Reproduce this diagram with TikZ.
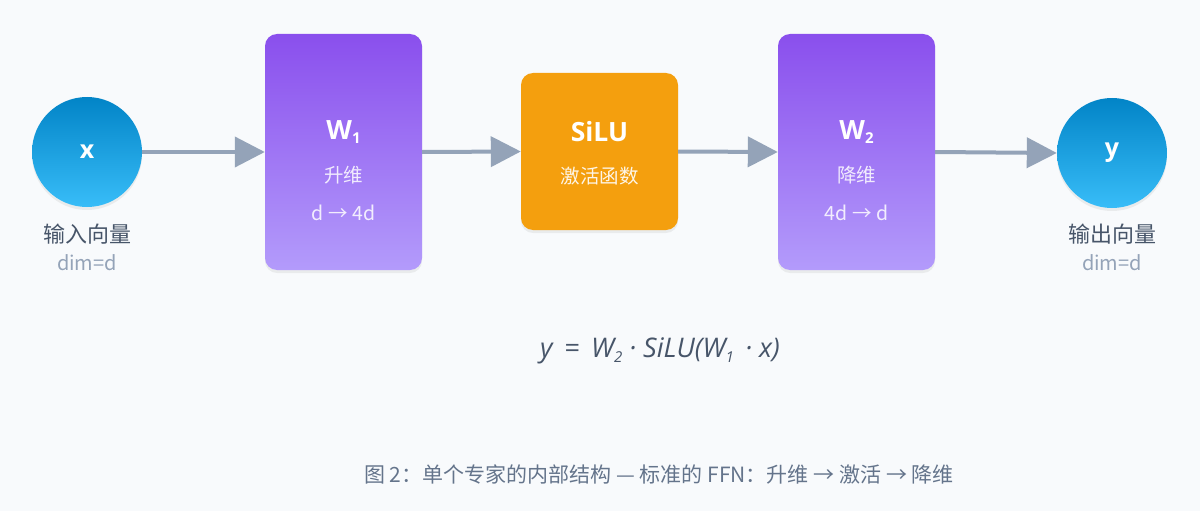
\documentclass[tikz,border=0pt]{standalone}
\usepackage{fontspec}
\setmainfont{Open Sans}
\newfontfamily\cjk{Noto Sans CJK SC}
\usetikzlibrary{arrows.meta,shadows}
\definecolor{paperbg}{HTML}{F8FAFC}
\definecolor{skytop}{HTML}{0284C7}
\definecolor{skybot}{HTML}{38BDF8}
\definecolor{violettop}{HTML}{8A4FED}
\definecolor{violetbot}{HTML}{B39BFB}
\definecolor{ambermid}{HTML}{F49F0E}
\definecolor{flowgray}{HTML}{94A3B8}
\definecolor{slatetext}{HTML}{475569}
\definecolor{captext}{HTML}{64748B}
\newcommand{\lowidx}[1]{\raisebox{-0.3ex}{\fontsize{15}{15}\selectfont #1}}
\begin{document}
\begin{tikzpicture}[x=1pt,y=-1pt,
  vecnode/.style={circle,minimum size=110pt,inner sep=0pt,top color=skytop,bottom color=skybot,
    drop shadow={opacity=0.12,shadow xshift=0pt,shadow yshift=-3pt},
    text=white,font=\fontsize{25}{25}\selectfont\bfseries},
  wbox/.style={rectangle,rounded corners=12pt,minimum width=157pt,minimum height=236pt,
    top color=violettop,bottom color=violetbot,
    drop shadow={opacity=0.12,shadow xshift=0pt,shadow yshift=-3pt}},
  actbox/.style={rectangle,rounded corners=12pt,minimum width=157pt,minimum height=157pt,fill=ambermid,
    drop shadow={opacity=0.12,shadow xshift=0pt,shadow yshift=-3pt}},
  boxtitle/.style={text=white,font=\fontsize{26.5}{26.5}\selectfont\bfseries},
  boxsub/.style={text=white,text opacity=0.85,font=\cjk\fontsize{19.5}{19.5}\selectfont},
  veclabel/.style={text=slatetext,font=\cjk\fontsize{22}{22}\selectfont},
  dimlabel/.style={text=flowgray,font=\cjk\fontsize{20}{20}\selectfont},
  flow/.style={draw=flowgray,line width=4pt,-{Triangle[length=30pt,width=30pt]}}]
  % draw background
  \fill[paperbg] (0,0) rectangle (1200,511);
  \useasboundingbox (0,0) rectangle (1200,511);
  % draw input vector
  \node at(87,152)[vecnode](xin){x};
  \node at(87,234)[veclabel](xname){输入向量};
  \node at(87,263)[dimlabel](xdim){dim=d};
  % draw up projection
  \node at(343.5,152)[wbox](w1){};
  \node at(343.5,132)[boxtitle](w1t){W\lowidx{1}};
  \node at(343.5,175)[boxsub](w1s){升维};
  \node at(343.5,213)[boxsub](w1d){d → 4d};
  % draw activation
  \node at(599.5,151.5)[actbox](act){};
  \node at(599.5,132)[boxtitle](actt){SiLU};
  \node at(599.5,176)[boxsub,text opacity=0.9](acts){激活函数};
  % draw down projection
  \node at(856.5,152)[wbox](w2){};
  \node at(856.5,132)[boxtitle](w2t){W\lowidx{2}};
  \node at(856.5,175)[boxsub](w2s){降维};
  \node at(856.5,213)[boxsub](w2d){4d → d};
  % draw output vector
  \node at(1112,153)[vecnode](yout){y};
  \node at(1112,234)[veclabel](yname){输出向量};
  \node at(1112,263)[dimlabel](ydim){dim=d};
  % draw arrows between stages
  \draw [flow](xin.east) -- (w1.west);
  \draw [flow](w1.east) -- (act.west);
  \draw [flow](act.east) -- (w2.west);
  \draw [flow](w2.east) -- (yout.west);
  % draw formula
  \node at(660,351)[text=slatetext,font=\fontsize{27}{27}\selectfont\itshape](formula){y \,=\, W\lowidx{2} · SiLU(W\lowidx{1} \,· x)};
  % draw caption
  \node at(659,474)[text=captext,font=\cjk\fontsize{21}{21}\selectfont](caption){图 2：单个专家的内部结构 — 标准的 FFN：升维 → 激活 → 降维};
\end{tikzpicture}
\end{document}
